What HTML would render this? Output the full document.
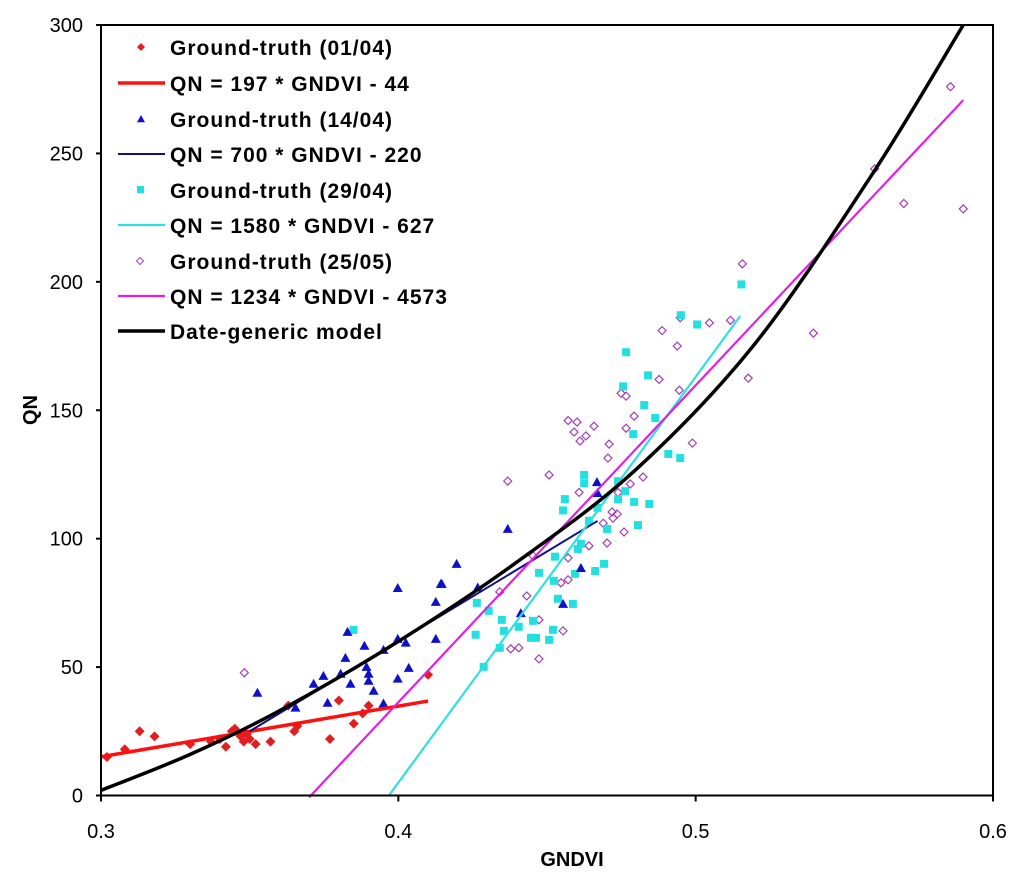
<!DOCTYPE html>
<html><head><meta charset="utf-8"><style>
html,body{margin:0;padding:0;background:#fff;}
svg{display:block;font-family:"Liberation Sans",Arial,sans-serif;}
</style></head><body>
<svg id="chart" width="1024" height="878" viewBox="0 0 1024 878" xmlns="http://www.w3.org/2000/svg">
<rect x="0" y="0" width="1024" height="878" fill="#fff"/>
<g id="plot"></g>
<g id="axes"></g>
<g id="legend"></g>
</svg>
<script>
const redX=[0.302,0.308,0.313,0.318,0.330,0.337,0.340,0.342,0.344,0.345,0.347,0.348,0.349,0.350,0.352,0.357,0.363,0.365,0.366,0.377,0.380,0.385,0.388,0.390,0.410];
const redY=[15,18,25,23,20,21,22,19,25,26,23,21,24,22,20,21,35,25,27,22,37,28,32,35,47];
const blueX=[0.3998,0.4143,0.4126,0.3829,0.3998,0.4025,0.4126,0.3886,0.395,0.3822,0.3893,0.4035,0.3806,0.39,0.3748,0.3715,0.3839,0.3998,0.39,0.3917,0.3526,0.3762,0.395,0.3654,0.4668,0.467,0.4368,0.4196,0.4146,0.4267,0.4412,0.4554,0.4614];
const blueY=[80.8,82.4,75.4,63.7,61,59.5,61,58.3,56.7,53.6,50.1,49.7,47.4,47.4,46.6,43.5,43.5,45.5,44.7,40.8,40,36.1,35.8,34.2,122,117.8,103.8,90.2,82.4,81,71,74.6,88.6];
const cyanX=[0.5154,0.5005,0.4766,0.484,0.4756,0.4827,0.4864,0.479,0.4908,0.4948,0.4625,0.4625,0.456,0.4739,0.4763,0.4739,0.4793,0.4844,0.4554,0.467,0.4641,0.4702,0.4806,0.4614,0.4604,0.4527,0.4692,0.4662,0.4473,0.4594,0.4523,0.4264,0.4537,0.4587,0.4304,0.4348,0.4453,0.4405,0.4355,0.452,0.426,0.4446,0.4463,0.4507,0.4341,0.4287,0.3849,0.495];
const cyanY=[199,183.4,172.6,163.6,159.3,152,147,140.7,133,131.4,124.8,121.6,115.4,122.4,118.5,115.4,114.3,113.5,111,112,107,103.8,105.3,98,96,93,90.2,87.4,86.7,86.3,83.6,75,76.6,74.6,71.9,68.4,68,65.7,64.1,64.5,62.6,61.4,61.4,60.6,57.5,50.1,64.5,187];
const magX=[0.4948,0.4887,0.5046,0.5117,0.4938,0.5177,0.4877,0.4945,0.4749,0.4766,0.4793,0.4571,0.4601,0.4658,0.4591,0.4631,0.4611,0.4766,0.4989,0.4709,0.4705,0.4368,0.4507,0.4823,0.478,0.4608,0.4739,0.4719,0.4736,0.4722,0.4689,0.4759,0.4641,0.4702,0.4453,0.4571,0.4547,0.4571,0.4341,0.4432,0.4473,0.4554,0.4378,0.4405,0.4473,0.3482,0.5396,0.5157,0.5857,0.57,0.59,0.5602];
const magY=[186,181,184,185,175,162.5,162,157.8,156.6,155.5,147.7,146,145.4,143.8,141.5,140,138,143,137.2,136.8,131.4,122.4,124.8,124,121.3,118,118,110.4,109.6,108,106,102.6,97.2,98.3,93.3,92.5,82.8,84,79.3,77.7,68.4,64.1,57.1,57.5,53.2,47.8,180,207,276,230.5,228.4,244];
const fitSlopes=[197,700,1580,1234];
const fitIntercepts=[-44,-220,-627,-457.3];
const fitFrom=[0.30,0.35,0.397,0.370];
const fitTo=[0.41,0.467,0.515,0.59];
const modelX=[0.30,0.33,0.36,0.40,0.44,0.48,0.52,0.56,0.59];
const modelY=[2,16,33,60,91,127,176,243,300];
const xTicks=[0.3,0.4,0.5,0.6];
const xTickLabels=["0.3","0.4","0.5","0.6"];
const yTicks=[0,50,100,150,200,250,300];
const yTickLabels=["0","50","100","150","200","250","300"];
const legendLabels=["Ground-truth (01/04)","QN = 197 * GNDVI - 44","Ground-truth (14/04)","QN = 700 * GNDVI - 220","Ground-truth (29/04)","QN = 1580 * GNDVI - 627","Ground-truth (25/05)","QN = 1234 * GNDVI - 4573","Date-generic model"];

const NS="http://www.w3.org/2000/svg";
const X0=101,X1=993,Y0=795.5,Y1=25;
const xs=v=>X0+(v-0.3)/(0.6-0.3)*(X1-X0);
const ys=v=>Y0-(v/300)*(Y0-Y1);
function mk(tag,attrs,parent){const e=document.createElementNS(NS,tag);for(const k in attrs)e.setAttribute(k,attrs[k]);parent.appendChild(e);return e;}
const plot=document.getElementById('plot'),axes=document.getElementById('axes'),legend=document.getElementById('legend');

function diamond(cx,cy,r){return `${cx},${cy-r} ${cx+r},${cy} ${cx},${cy+r} ${cx-r},${cy}`;}
function tri(cx,cy,r){return `${cx},${cy-r} ${cx+r},${cy+r*0.8} ${cx-r},${cy+r*0.8}`;}

magX.forEach((v,i)=>{const p=mk('polygon',{points:diamond(xs(v),ys(magY[i]),4),fill:'none',stroke:'#a040b0','stroke-width':1.2},plot);

});
cyanX.forEach((v,i)=>{const p=mk('rect',{x:xs(v)-4,y:ys(cyanY[i])-4,width:8,height:8,fill:'#22e0e0'},plot);

});
blueX.forEach((v,i)=>{const p=mk('polygon',{points:tri(xs(v),ys(blueY[i]),5),fill:'#1010c8'},plot);

});
redX.forEach((v,i)=>{const p=mk('polygon',{points:diamond(xs(v),ys(redY[i]),5),fill:'#e02020'},plot);

});

const fitColors=['#ff1010','#101080','#30e0e0','#e020e0'];
const fitWidths=[3.5,2,2.2,2.2];
const fitNames=['fit-line-0104','fit-line-1404','fit-line-2904','fit-line-2505'];
fitSlopes.forEach((s,i)=>{const a=fitFrom[i],b=fitTo[i];
const l=mk('line',{x1:xs(a),y1:ys(s*a+fitIntercepts[i]),x2:xs(b),y2:ys(s*b+fitIntercepts[i]),stroke:fitColors[i],'stroke-width':fitWidths[i]},plot);

});

(function(){const P=modelX.map((v,i)=>[xs(v),ys(modelY[i])]);let d=`M${P[0][0]},${P[0][1]}`;
for(let i=0;i<P.length-1;i++){const p0=P[Math.max(0,i-1)],p1=P[i],p2=P[i+1],p3=P[Math.min(P.length-1,i+2)];
d+=` C${p1[0]+(p2[0]-p0[0])/6},${p1[1]+(p2[1]-p0[1])/6} ${p2[0]-(p3[0]-p1[0])/6},${p2[1]-(p3[1]-p1[1])/6} ${p2[0]},${p2[1]}`;}
const pth=mk('path',{d:d,fill:'none',stroke:'#000','stroke-width':3.5},plot);

})();

const fr=mk('rect',{x:X0,y:Y1,width:X1-X0,height:Y0-Y1,fill:'none',stroke:'#000','stroke-width':2},axes);


yTicks.forEach((v,i)=>{mk('line',{x1:X0-5,y1:ys(v),x2:X0,y2:ys(v),stroke:'#000','stroke-width':2},axes);
const t=mk('text',{x:83,y:ys(v)+7,'text-anchor':'end','font-size':20,fill:'#000'},axes);t.textContent=yTickLabels[i];

});
xTicks.forEach((v,i)=>{mk('line',{x1:xs(v),y1:Y0,x2:xs(v),y2:Y0+6,stroke:'#000','stroke-width':2},axes);
const t=mk('text',{x:xs(v),y:838,'text-anchor':'middle','font-size':20,fill:'#000'},axes);t.textContent=xTickLabels[i];

});
const xt=mk('text',{x:572,y:866,'text-anchor':'middle','font-size':20,'font-weight':'bold'},axes);xt.textContent='GNDVI';


const yt=mk('text',{x:0,y:0,'text-anchor':'middle','font-size':20,'font-weight':'bold',transform:'translate(37,410) rotate(-90)'},axes);yt.textContent='QN';



const rowsY=[47,83,119,154,190,225,261,296,331];
const legKinds=['d','l','t','l','s','l','o','l','l'];
const legColors=['#e02020','#ff1010','#1010c8','#101080','#22e0e0','#30e0e0','#a040b0','#e020e0','#000'];
const legW=[0,3.5,0,2,0,2.2,0,2.2,3.5];
legendLabels.forEach((lab,i)=>{const y=rowsY[i];const g=mk('g',{},legend);


const k=legKinds[i],c=legColors[i];
if(k==='l')mk('line',{x1:118,y1:y,x2:165,y2:y,stroke:c,'stroke-width':legW[i]},g);
else if(k==='d')mk('polygon',{points:diamond(141,y,4),fill:c},g);
else if(k==='t')mk('polygon',{points:tri(141,y,4),fill:c},g);
else if(k==='s')mk('rect',{x:137,y:y-4,width:7,height:7,fill:c},g);
else mk('polygon',{points:diamond(140,y,3.5),fill:'none',stroke:c,'stroke-width':1},g);
const t=mk('text',{x:170,y:y+8,'font-size':21,'font-weight':'bold','letter-spacing':1,fill:'#000'},g);t.textContent=lab;});
</script>
</body></html>
